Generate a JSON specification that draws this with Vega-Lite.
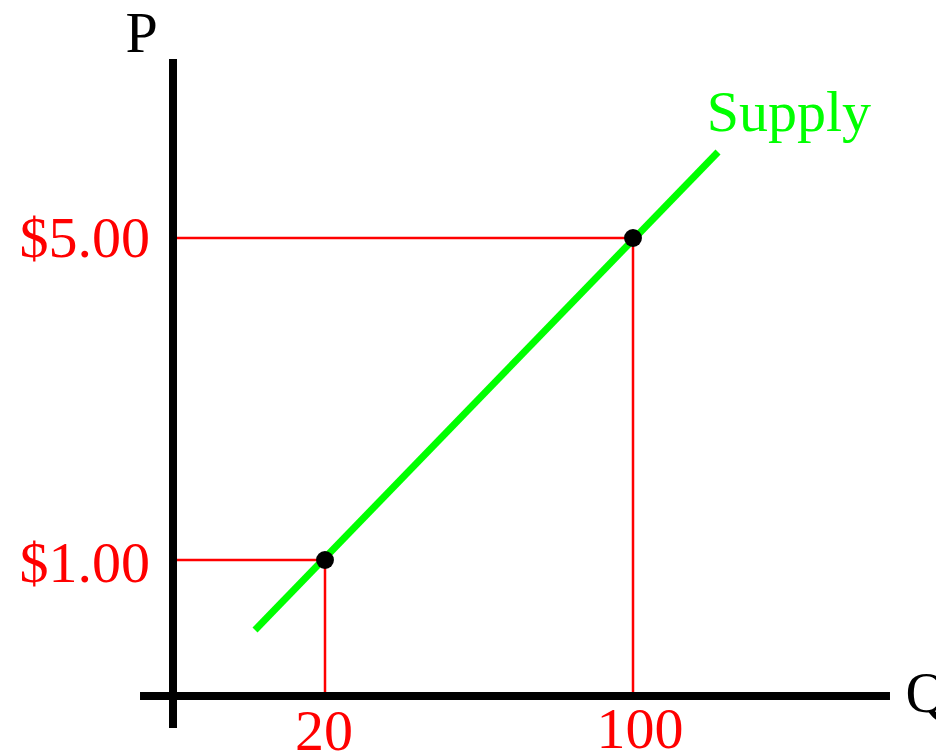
{
  "$schema": "https://vega.github.io/schema/vega-lite/v6.json",
  "autosize": {"type": "none"},
  "width": 936,
  "height": 754,
  "padding": 0,
  "background": "white",
  "config": {"view": {"stroke": null}},
  "datasets": {
    "points": [{"Q": 20, "P": 1}, {"Q": 100, "P": 5}],
    "guides": [
      {"g": "a", "Q": -19.48, "P": 1}, {"g": "a", "Q": 20, "P": 1}, {"g": "a", "Q": 20, "P": -0.689},
      {"g": "b", "Q": -19.48, "P": 5}, {"g": "b", "Q": 100, "P": 5}, {"g": "b", "Q": 100, "P": -0.689}
    ],
    "axes": [
      {"Q1": -19.48, "Q2": -19.48, "P1": 7.224, "P2": -1.087},
      {"Q1": -28.05, "Q2": 166.75, "P1": -0.689, "P2": -0.689}
    ],
    "supply": [{"Q": 1.82, "P": 0.13}, {"Q": 122.08, "P": 6.068}],
    "redLabels": [
      {"text": "$1.00", "Q": -25.45, "P": 0.727},
      {"text": "$5.00", "Q": -25.45, "P": 4.764}
    ],
    "qLabels": [
      {"text": "20", "Q": 19.74, "P": -1.36},
      {"text": "100", "Q": 101.8, "P": -1.335}
    ],
    "axisNames": [
      {"text": "P", "Q": -27.66, "P": 7.31},
      {"text": "Q", "Q": 176.2, "P": -0.89}
    ],
    "curveName": [{"text": "Supply", "Q": 140.5, "P": 6.33}]
  },
  "layer": [
    {
      "data": {"name": "guides"},
      "mark": {"type": "line", "color": "#ff0000", "strokeWidth": 2.5, "strokeCap": "butt", "strokeJoin": "miter"},
      "encoding": {
        "x": {"field": "Q", "type": "quantitative", "scale": {"domain": [-64.416, 178.70], "nice": false, "zero": false}, "axis": null},
        "y": {"field": "P", "type": "quantitative", "scale": {"domain": [-1.41, 7.9565], "nice": false, "zero": false}, "axis": null},
        "detail": {"field": "g"},
        "order": {"field": "idx"}
      }
    },
    {
      "data": {"name": "axes"},
      "mark": {"type": "rule", "color": "black", "strokeWidth": 8, "strokeCap": "butt"},
      "encoding": {
        "x": {"field": "Q1", "type": "quantitative", "axis": null},
        "x2": {"field": "Q2"},
        "y": {"field": "P1", "type": "quantitative", "axis": null},
        "y2": {"field": "P2"}
      }
    },
    {
      "data": {"name": "supply"},
      "mark": {"type": "line", "color": "#00ff00", "strokeWidth": 7, "strokeCap": "butt"},
      "encoding": {
        "x": {"field": "Q", "type": "quantitative", "axis": null},
        "y": {"field": "P", "type": "quantitative", "axis": null}
      }
    },
    {
      "data": {"name": "points"},
      "mark": {"type": "circle", "color": "black", "opacity": 1, "size": 320},
      "encoding": {
        "x": {"field": "Q", "type": "quantitative", "axis": null},
        "y": {"field": "P", "type": "quantitative", "axis": null}
      }
    },
    {
      "data": {"name": "redLabels"},
      "mark": {"type": "text", "color": "#ff0000", "font": "Liberation Serif", "fontSize": 58, "align": "right", "baseline": "alphabetic"},
      "encoding": {
        "x": {"field": "Q", "type": "quantitative", "axis": null},
        "y": {"field": "P", "type": "quantitative", "axis": null},
        "text": {"field": "text"}
      }
    },
    {
      "data": {"name": "qLabels"},
      "mark": {"type": "text", "color": "#ff0000", "font": "Liberation Serif", "fontSize": 58, "align": "center", "baseline": "alphabetic"},
      "encoding": {
        "x": {"field": "Q", "type": "quantitative", "axis": null},
        "y": {"field": "P", "type": "quantitative", "axis": null},
        "text": {"field": "text"}
      }
    },
    {
      "data": {"name": "axisNames"},
      "mark": {"type": "text", "color": "black", "font": "Liberation Serif", "fontSize": 58, "align": "center", "baseline": "alphabetic"},
      "encoding": {
        "x": {"field": "Q", "type": "quantitative", "axis": null},
        "y": {"field": "P", "type": "quantitative", "axis": null},
        "text": {"field": "text"}
      }
    },
    {
      "data": {"name": "curveName"},
      "mark": {"type": "text", "color": "#00ff00", "font": "Liberation Serif", "fontSize": 58, "align": "center", "baseline": "alphabetic"},
      "encoding": {
        "x": {"field": "Q", "type": "quantitative", "axis": null},
        "y": {"field": "P", "type": "quantitative", "axis": null},
        "text": {"field": "text"}
      }
    }
  ]
}
